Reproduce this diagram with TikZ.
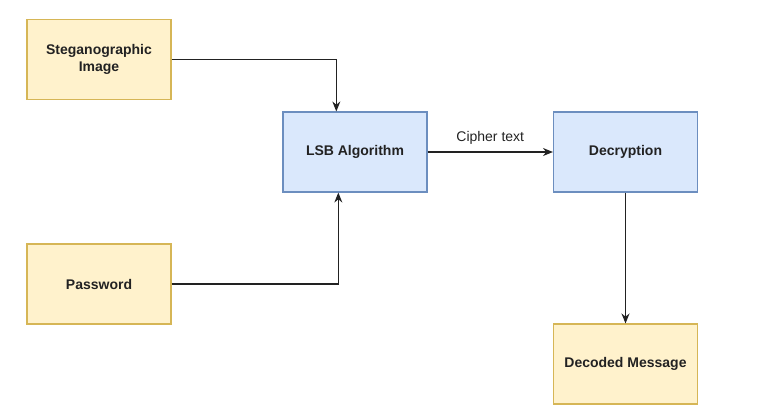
\documentclass[tikz,border=0pt]{standalone}
\usepackage{fontspec}
\setmainfont{Liberation Sans}
\usepackage{xcolor}
\usetikzlibrary{calc,arrows.meta}
\definecolor{inputfill}{HTML}{FFF2CC}
\definecolor{inputline}{HTML}{D6B656}
\definecolor{procfill}{HTML}{DAE8FC}
\definecolor{procline}{HTML}{6C8EBF}
\definecolor{wire}{HTML}{222222}
\tikzset{
  inbox/.style={draw=inputline,fill=inputfill,line width=0.8pt,minimum width=108pt,minimum height=60pt,align=center,font=\bfseries\fontsize{10.5}{12.5}\selectfont,text=wire},
  procbox/.style={inbox,draw=procline,fill=procfill},
  wireline/.style={draw=wire,line width=0.9pt,-{Stealth[length=7.5pt,width=6pt]}}
}
\begin{document}
\begin{tikzpicture}[x=0.75pt,y=-0.75pt]
\useasboundingbox (0,0) rectangle (760,408);
\node[inbox] (steg) at (99,59.5) {Steganographic\\Image};
\node[inbox] (pass) at (99,284) {Password};
\node[procbox] (lsb) at (355,152) {LSB Algorithm};
\node[procbox] (decr) at (625.5,152) {Decryption};
\node[inbox] (msg) at (625.5,364) {Decoded Message};
\draw[wireline] (steg.east) -| ($(lsb.north)+(-14pt,0)$);
\draw[wireline] (pass.east) -| ($(lsb.south)+(-12.5pt,0)$);
\draw[wireline] (lsb) -- node[above=2pt,font=\fontsize{10.5}{12.5}\selectfont,text=wire] {Cipher text} (decr);
\draw[wireline] (decr) -- (msg);
\end{tikzpicture}
\end{document}
